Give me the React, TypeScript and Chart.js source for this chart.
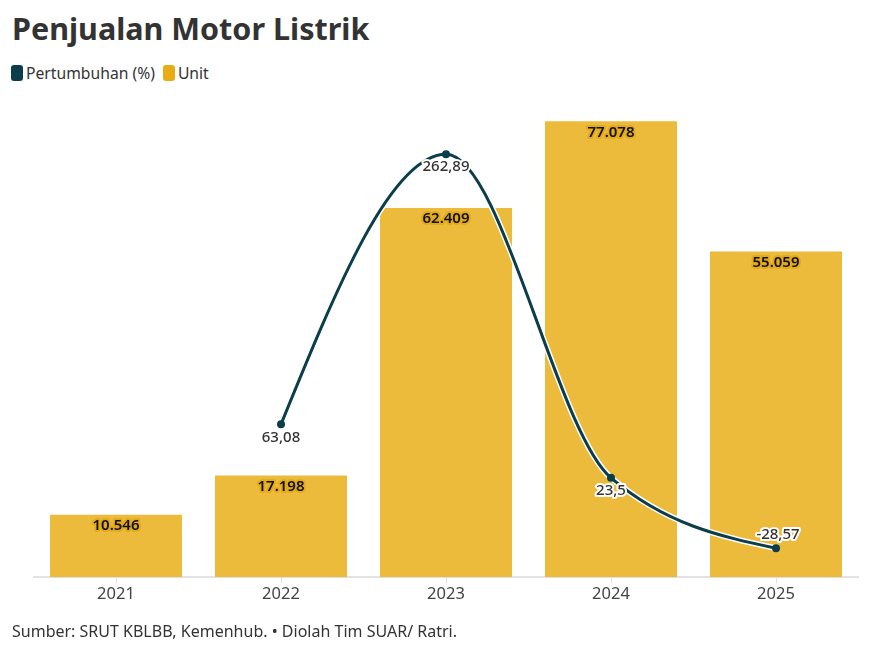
import React, { useEffect, useRef } from "react";
import { Chart, registerables } from "chart.js";
Chart.register(...registerables);

const years = ["2021", "2022", "2023", "2024", "2025"];
const units = [10546, 17198, 62409, 77078, 55059];
const growth: (number | null)[] = [null, 63.08, 262.89, 23.5, -28.57];
const unitLabels = ["10.546", "17.198", "62.409", "77.078", "55.059"];
const growthLabels = ["", "63,08", "262,89", "23,5", "-28,57"];

const FONT = '"Noto Sans", sans-serif';
const DARK = "#0B3D4A";
const BAR = "#ECBB3C";

// d3-style monotoneX control points for the line elements
const monotonePlugin = {
  id: "monotoneX",
  beforeDatasetsDraw(chart: any) {
    [0, 1].forEach((di) => {
      const meta = chart.getDatasetMeta(di);
      const line: any = meta.dataset;
      if (line && line.updateControlPoints) line.updateControlPoints(chart.chartArea, "x");
      const pts = meta.data.filter((p: any) => !p.skip && isFinite(p.y));
      const n = pts.length;
      if (n < 2) return;
      const sign = (v: number) => (v < 0 ? -1 : 1);
      const t: number[] = new Array(n).fill(0);
      for (let i = 1; i < n - 1; i++) {
        const h0 = pts[i].x - pts[i - 1].x;
        const h1 = pts[i + 1].x - pts[i].x;
        const s0 = (pts[i].y - pts[i - 1].y) / h0;
        const s1 = (pts[i + 1].y - pts[i].y) / h1;
        const p = (s0 * h1 + s1 * h0) / (h0 + h1);
        t[i] = (sign(s0) + sign(s1)) * Math.min(Math.abs(s0), Math.abs(s1), 0.5 * Math.abs(p)) || 0;
      }
      const h = pts[1].x - pts[0].x;
      t[0] = (3 * (pts[1].y - pts[0].y) / h - t[1]) / 2;
      const hl = pts[n - 1].x - pts[n - 2].x;
      t[n - 1] = (3 * (pts[n - 1].y - pts[n - 2].y) / hl - t[n - 2]) / 2;
      for (let i = 0; i < n; i++) {
        const p = pts[i];
        if (i > 0) {
          const dx = (p.x - pts[i - 1].x) / 3;
          p.cp1x = p.x - dx;
          p.cp1y = p.y - dx * t[i];
        } else {
          p.cp1x = p.x;
          p.cp1y = p.y;
        }
        if (i < n - 1) {
          const dx = (pts[i + 1].x - p.x) / 3;
          p.cp2x = p.x + dx;
          p.cp2y = p.y + dx * t[i];
        } else {
          p.cp2x = p.x;
          p.cp2y = p.y;
        }
      }
    });
  },
};

const labelPlugin = {
  id: "valueLabels",
  afterDatasetsDraw(chart: any) {
    const ctx = chart.ctx as CanvasRenderingContext2D;
    ctx.save();
    ctx.textAlign = "center";
    ctx.textBaseline = "middle";
    ctx.lineJoin = "round";
    const barMeta = chart.getDatasetMeta(2);
    barMeta.data.forEach((el: any, i: number) => {
      ctx.font = `600 15px ${FONT}`;
      ctx.strokeStyle = "#E3AA1C";
      ctx.lineWidth = 4;
      ctx.strokeText(unitLabels[i], el.x, el.y + 11);
      ctx.fillStyle = "#111";
      ctx.fillText(unitLabels[i], el.x, el.y + 11);
    });
    const lineMeta = chart.getDatasetMeta(0);
    const last = growth.length - 1;
    lineMeta.data.forEach((el: any, i: number) => {
      if (growth[i] === null) return;
      const y = i === last ? el.y - 13 : el.y + 13;
      const x = i === last ? el.x + 2 : el.x;
      ctx.font = `500 15px ${FONT}`;
      ctx.strokeStyle = "#fff";
      ctx.lineWidth = 4;
      ctx.strokeText(growthLabels[i], x, y);
      ctx.fillStyle = "#333";
      ctx.fillText(growthLabels[i], x, y);
    });
    ctx.restore();
  },
};

export default function App() {
  const ref = useRef<HTMLCanvasElement>(null);
  useEffect(() => {
    document.body.style.margin = "0";
    const chart = new Chart(ref.current!, {
      type: "bar",
      data: {
        labels: years,
        datasets: [
          {
            type: "line",
            label: "Pertumbuhan (%)",
            data: growth,
            yAxisID: "y1",
            borderColor: DARK,
            backgroundColor: DARK,
            borderWidth: 3,
            pointRadius: 4,
            pointBackgroundColor: DARK,
            pointBorderWidth: 0,
            cubicInterpolationMode: "monotone",
            order: 0,
          } as any,
          {
            type: "line",
            label: "outline",
            data: growth,
            yAxisID: "y1",
            borderColor: "#ffffff",
            borderWidth: 6,
            pointRadius: 0,
            cubicInterpolationMode: "monotone",
            order: 1,
          } as any,
          {
            type: "bar",
            label: "Unit",
            data: units,
            yAxisID: "y",
            backgroundColor: BAR,
            barPercentage: 0.8,
            categoryPercentage: 1,
            order: 2,
          },
        ],
      },
      options: {
        animation: false,
        responsive: false,
        layout: { padding: { left: 33.5, right: 27.5, top: 104, bottom: 47 } },
        plugins: {
          legend: { display: false },
          tooltip: { enabled: false },
        },
        scales: {
          x: {
            grid: { drawOnChartArea: false, color: "#E2E2E2", tickLength: 6, offset: false },
            border: { color: "#E2E2E2", width: 2 },
            ticks: { color: "#444", font: { family: FONT, size: 16.5 }, padding: 1 },
          },
          y: { display: false, min: 0, max: 80000 },
          y1: { display: false, min: -50, max: 300 },
        },
      },
      plugins: [monotonePlugin, labelPlugin],
    });
    return () => chart.destroy();
  }, []);

  const legendItem = (color: string, text: string) => (
    <span style={{ display: "inline-flex", alignItems: "center", marginRight: 8 }}>
      <span
        style={{
          display: "inline-block",
          width: 12,
          height: 16,
          borderRadius: 3,
          background: color,
          marginRight: 3,
        }}
      />
      <span>{text}</span>
    </span>
  );

  return (
    <div style={{ position: "relative", width: 886, height: 652, fontFamily: FONT, color: "#333" }}>
      <div style={{ position: "absolute", left: 12, top: 7, fontSize: 30.5, fontWeight: 700, color: "#333", whiteSpace: "nowrap" }}>
        Penjualan Motor Listrik
      </div>
      <div style={{ position: "absolute", left: 11, top: 62, fontSize: 15.7, display: "flex", whiteSpace: "nowrap" }}>
        {legendItem(DARK, "Pertumbuhan (%)")}
        {legendItem("#E9AC14", "Unit")}
      </div>
      <canvas ref={ref} width={886} height={652} style={{ position: "absolute", left: 0, top: 0 }} />
      <div style={{ position: "absolute", left: 12, top: 620, fontSize: 16, color: "#333", whiteSpace: "nowrap" }}>
        Sumber: SRUT KBLBB, Kemenhub. • Diolah Tim SUAR/ Ratri.
      </div>
    </div>
  );
}
